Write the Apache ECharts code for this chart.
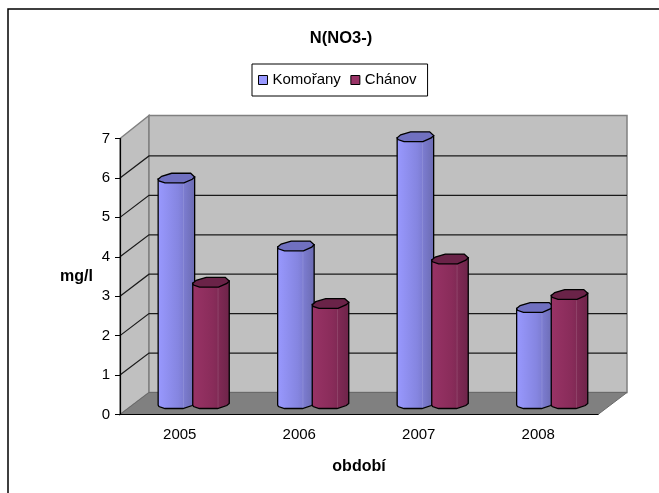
<!DOCTYPE html>
<html>
<head>
<meta charset="utf-8">
<style>
  html, body { margin: 0; padding: 0; background: #fff; }
  #chart { width: 659px; height: 493px; }
</style>
<script src="https://cdn.jsdelivr.net/npm/echarts@6/dist/echarts.min.js"></script>
</head>
<body>
<div id="chart"></div>
<script>
const categories = ["2005", "2006", "2007", "2008"];
const komorany = [5.72, 4.0, 6.77, 2.44];
const chanov = [3.08, 2.54, 3.67, 2.77];
const yTicks = [0, 1, 2, 3, 4, 5, 6, 7];

const FONT = '"Liberation Sans", Arial, sans-serif';
// depth of the fake 3D box
const DX = 29;
const DY = 22;
// bars stand half way back
const MID_X = 14;
const MID_Y = 11;

const chart = echarts.init(document.getElementById("chart"), undefined, { renderer: "canvas" });

function renderBackdrop(params, api) {
  const box = params.coordSys;
  const x0 = box.x;
  const x1 = box.x + box.width;
  const y0 = api.coord([0, 0])[1];
  const y7 = api.coord([0, 7])[1];
  const children = [
    {
      type: "polygon",
      shape: { points: [[x0, y0], [x0 + DX, y0 - DY], [x0 + DX, y7 - DY - 1], [x0, y7]] },
      style: { fill: "#c0c0c0", stroke: "#808080", lineWidth: 1.5 }
    },
    {
      type: "rect",
      shape: { x: x0 + DX, y: y7 - DY - 1, width: box.width, height: y0 - y7 + 1 },
      style: { fill: "#c0c0c0", stroke: "#808080", lineWidth: 1.5 }
    },
    {
      type: "polygon",
      shape: { points: [[x0, y0], [x0 + DX, y0 - DY], [x1 + DX, y0 - DY], [x1, y0]] },
      style: { fill: "#808080", stroke: "#6a6a6a", lineWidth: 1 }
    }
  ];
  yTicks.slice(1, -1).forEach((tick) => {
    const y = api.coord([0, tick])[1];
    children.push({
      type: "polyline",
      shape: { points: [[x0, y], [x0 + DX, y - DY], [x1 + DX, y - DY]] },
      style: { fill: null, stroke: "#1a1a1a", lineWidth: 1.2 }
    });
  });
  return { type: "group", children };
}

function barRenderer(side, light, mid, dark, top) {
  return (params, api) => {
    const cat = api.value(0);
    const base = api.coord([cat, 0]);
    const head = api.coord([cat, api.value(1)]);
    const cx = base[0] + MID_X + side * 17.3;
    const by = base[1] - MID_Y;
    const ty = head[1] - MID_Y;
    const fill = new echarts.graphic.LinearGradient(0, 0, 1, 0, [
      { offset: 0, color: light },
      { offset: 0.55, color: mid },
      { offset: 1, color: dark }
    ]);
    return {
      type: "group",
      children: [
        {
          type: "polygon",
          shape: {
            points: [
              [cx - 18.3, ty + 1], [cx - 18.3, by + 1.5], [cx - 17.5, by + 3], [cx - 11.5, by + 5],
              [cx + 6.5, by + 5], [cx + 15.8, by + 2], [cx + 18.2, by], [cx + 18.2, ty - 1]
            ]
          },
          style: { fill, stroke: "#000", lineWidth: 1.3 }
        },
        {
          type: "line",
          shape: { x1: cx + 7, y1: ty + 6, x2: cx + 7, y2: by + 4 },
          style: { stroke: "rgba(255,255,255,0.12)", lineWidth: 1 }
        },
        {
          type: "polygon",
          shape: {
            points: [
              [cx - 18.3, ty + 1.3], [cx - 14.8, ty - 1.7], [cx - 4.8, ty - 4.7], [cx + 14.2, ty - 4.7],
              [cx + 18.2, ty - 1], [cx + 15.8, ty + 1.3], [cx + 7.5, ty + 5], [cx - 11.5, ty + 5], [cx - 17.5, ty + 3]
            ]
          },
          style: { fill: top, stroke: "#000", lineWidth: 1.3 }
        }
      ]
    };
  };
}

chart.setOption({
  animation: false,
  backgroundColor: "#fff",
  textStyle: { fontFamily: FONT },
  graphic: [
    {
      type: "rect",
      z: -1,
      shape: { x: 8, y: 9, width: 700, height: 600 },
      style: { fill: "#fff", stroke: "#000", lineWidth: 1.5 }
    }
  ],
  title: {
    text: "N(NO3-)",
    left: 336,
    top: 25,
    textAlign: "center",
    textStyle: { fontFamily: FONT, fontSize: 16.5, fontWeight: "bold", color: "#000" }
  },
  legend: {
    left: 252,
    top: 64,
    padding: [8.5, 11, 8.5, 6],
    borderColor: "#000",
    borderWidth: 1,
    icon: "rect",
    itemWidth: 9,
    itemHeight: 9,
    itemGap: 9.5,
    itemStyle: { borderColor: "#000", borderWidth: 1 },
    textStyle: { fontFamily: FONT, fontSize: 15, color: "#000" },
    data: ["Komořany", "Chánov"]
  },
  grid: { left: 120, right: 61, top: 138.5, bottom: 78.5 },
  xAxis: {
    type: "category",
    data: categories,
    z: 10,
    name: "období",
    nameLocation: "middle",
    nameGap: 44,
    nameTextStyle: { fontFamily: FONT, fontSize: 16, fontWeight: "bold", color: "#000" },
    axisLine: { lineStyle: { color: "#000", width: 1.2 } },
    axisTick: { length: 5, lineStyle: { color: "#000" } },
    axisLabel: { fontFamily: FONT, fontSize: 15, color: "#000", margin: 13 }
  },
  yAxis: {
    type: "value",
    min: 0,
    max: 7,
    interval: 1,
    z: 10,
    name: "mg/l",
    nameLocation: "middle",
    nameRotate: 0,
    nameGap: 27,
    nameTextStyle: { fontFamily: FONT, fontSize: 16, fontWeight: "bold", color: "#000", padding: [5, 0, 0, 0] },
    axisLine: { show: true, lineStyle: { color: "#000", width: 1.2 } },
    axisTick: { show: true, length: 5, lineStyle: { color: "#000" } },
    axisLabel: { fontFamily: FONT, fontSize: 15, color: "#000", margin: 10 },
    splitLine: { show: false }
  },
  series: [
    {
      type: "custom",
      name: "backdrop",
      silent: true,
      clip: false,
      z: 1,
      data: [[0, 0]],
      renderItem: renderBackdrop
    },
    {
      type: "custom",
      name: "Komořany",
      clip: false,
      z: 2,
      itemStyle: { color: "#9999ff" },
      encode: { x: 0, y: 1 },
      data: komorany.map((value, i) => [i, value]),
      renderItem: barRenderer(-1, "#9999ff", "#8585e0", "#6a6ab0", "#7070c0")
    },
    {
      type: "custom",
      name: "Chánov",
      clip: false,
      z: 3,
      itemStyle: { color: "#993366" },
      encode: { x: 0, y: 1 },
      data: chanov.map((value, i) => [i, value]),
      renderItem: barRenderer(1, "#993366", "#892c5a", "#6d2449", "#6a2348")
    }
  ]
});
</script>
</body>
</html>
